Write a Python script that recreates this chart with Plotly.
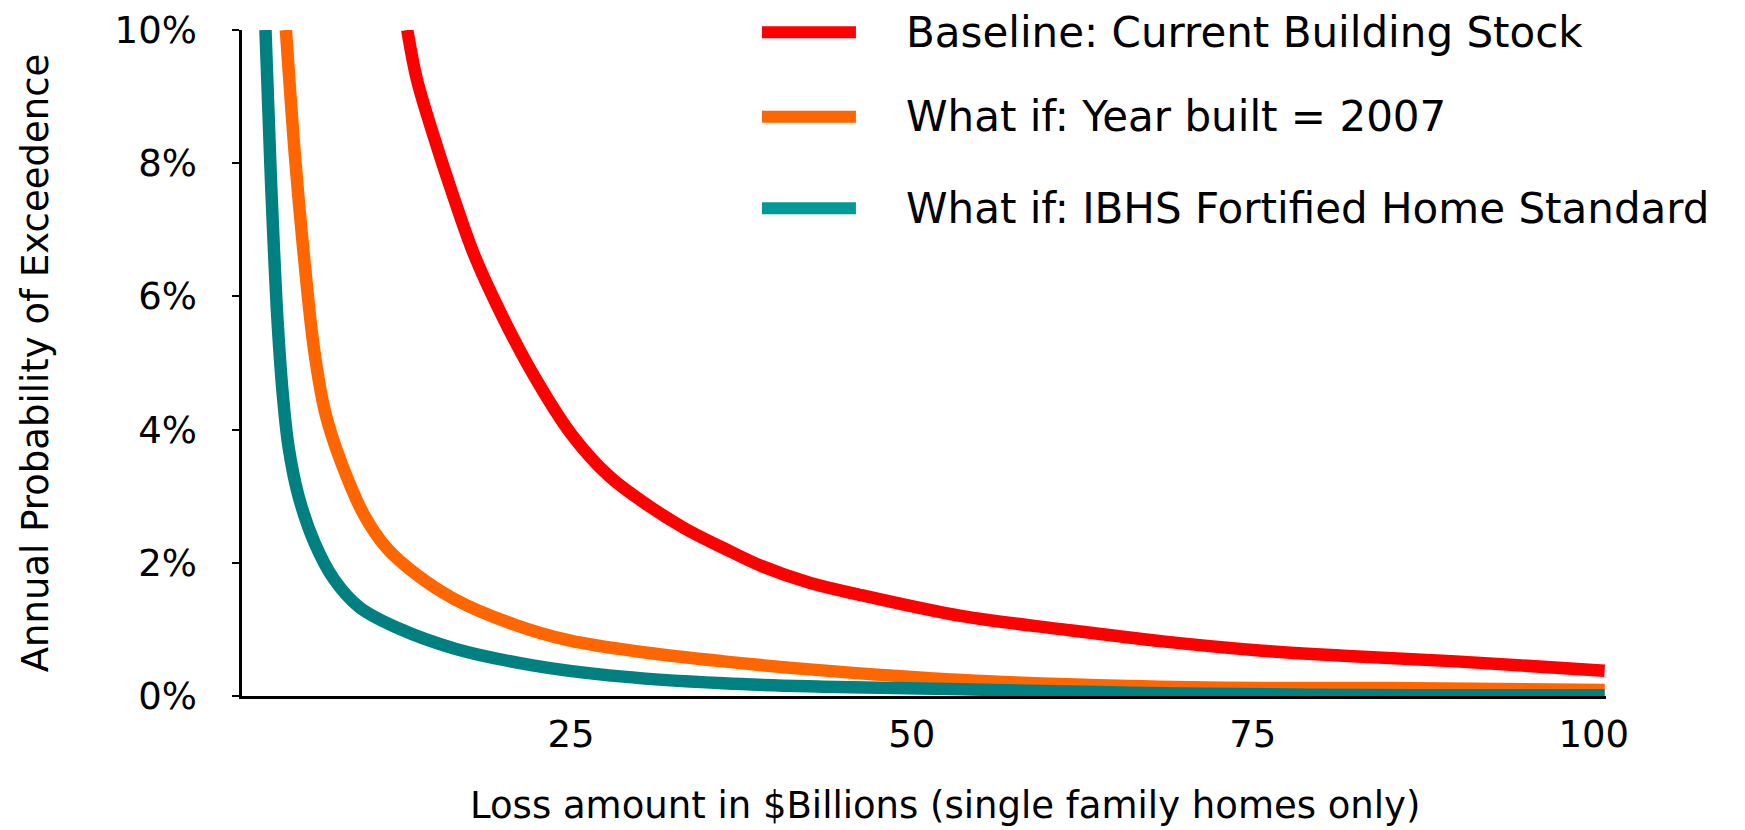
import plotly.graph_objects as go

# Loss amount ($Billions) vs annual probability of exceedence (%)
baseline_x = [13.0, 13.7, 14.9, 16.3, 17.95, 19.9, 22.2, 24.96, 27.8, 30.6, 33.4,
              36.2, 39.0, 42.5, 46.4, 53.7, 61.1, 68.4, 75.7, 82.0, 89.9, 100.8]
baseline_y = [10.0, 9.26, 8.43, 7.55, 6.60, 5.73, 4.84, 3.95, 3.30, 2.87, 2.51,
              2.22, 1.95, 1.70, 1.51, 1.20, 1.00, 0.82, 0.68, 0.60, 0.52, 0.38]

year2007_x = [4.1, 4.76, 5.32, 6.16, 7.0, 8.13, 9.8, 11.5, 13.7, 16.5, 20.75,
              24.96, 30.6, 36.2, 42.5, 53.7, 65.9, 75.7, 84.9, 100.8]
year2007_y = [10.0, 8.11, 6.82, 5.21, 4.24, 3.52, 2.73, 2.22, 1.82, 1.45, 1.08,
              0.83, 0.65, 0.52, 0.40, 0.24, 0.15, 0.12, 0.12, 0.09]

ibhs_x = [2.6, 3.0, 3.5, 3.9, 4.3, 5.0, 6.2, 7.6, 9.5, 12.3, 16.5, 22.2, 27.8,
          36.2, 43.5, 53.7, 65.9, 79.0, 90.0, 100.8]
ibhs_y = [10.0, 7.76, 5.58, 4.46, 3.73, 3.02, 2.30, 1.76, 1.33, 1.02, 0.71, 0.46,
          0.31, 0.19, 0.14, 0.10, 0.05, 0.02, 0.01, 0.01]

series_names = [
    "Baseline: Current Building Stock",
    "What if: Year built = 2007",
    "What if: IBHS Fortified Home Standard",
]
line_colors = ["#FF0000", "#FF6600", "#008080"]
swatch_colors = ["#FF0000", "#FF6600", "#009999"]

x_ticks = [25, 50, 75, 100]
y_ticks = [0, 2, 4, 6, 8, 10]
y_tick_labels = ["0%", "2%", "4%", "6%", "8%", "10%"]

FONT = "DejaVu Sans, Verdana, sans-serif"

fig = go.Figure()
for name, xs, ys, color in zip(
    series_names,
    [baseline_x, year2007_x, ibhs_x],
    [baseline_y, year2007_y, ibhs_y],
    line_colors,
):
    fig.add_trace(
        go.Scatter(
            x=xs,
            y=ys,
            mode="lines",
            name=name,
            line={"color": color, "width": 12.5, "shape": "spline", "smoothing": 1.0},
            showlegend=False,
        )
    )

# legend drawn as long swatches next to text, as in the original slide
legend_y = [0.9968, 0.8698, 0.7323]
for name, color, ly in zip(series_names, swatch_colors, legend_y):
    fig.add_shape(
        type="line", xref="paper", yref="paper",
        x0=0.3812, x1=0.4501, y0=ly, y1=ly,
        line={"color": color, "width": 12},
    )
    fig.add_annotation(
        text=name, xref="paper", yref="paper", x=0.4856, y=ly,
        xanchor="left", yanchor="middle", showarrow=False,
        font={"family": FONT, "size": 42, "color": "black"},
    )

# x axis title sits a little right of centre in the original
fig.add_annotation(
    text="Loss amount in $Billions (single family homes only)",
    xref="paper", yref="paper", x=0.5156, y=-0.164,
    xanchor="center", yanchor="middle", showarrow=False,
    font={"family": FONT, "size": 37, "color": "black"},
)

# page body adds a margin, so the figure is a little smaller than the window
fig.update_layout(
    width=1737,
    height=822,
    plot_bgcolor="white",
    paper_bgcolor="white",
    margin={"l": 234, "r": 139, "t": 22, "b": 134},
    font={"family": FONT, "size": 37, "color": "black"},
)

fig.update_xaxes(
    range=[0.88, 100.9],
    tickvals=x_ticks,
    ticks="",
    showgrid=False,
    zeroline=False,
    showline=True,
    linecolor="black",
    linewidth=2.5,
    ticklabelstandoff=4,
    ticklabeloverflow="allow",
    tickfont={"size": 37},
    automargin=False,
)
fig.update_yaxes(
    range=[0, 10],
    tickvals=y_ticks,
    ticktext=y_tick_labels,
    ticks="outside",
    ticklen=7,
    tickwidth=2,
    tickcolor="black",
    showgrid=False,
    zeroline=False,
    showline=True,
    linecolor="black",
    linewidth=2.5,
    ticklabelstandoff=28,
    ticklabeloverflow="allow",
    tickfont={"size": 37},
    title={"text": "Annual Probability of Exceedence", "font": {"size": 37},
           "standoff": 55},
    automargin=False,
)

fig.write_html("out.html")
